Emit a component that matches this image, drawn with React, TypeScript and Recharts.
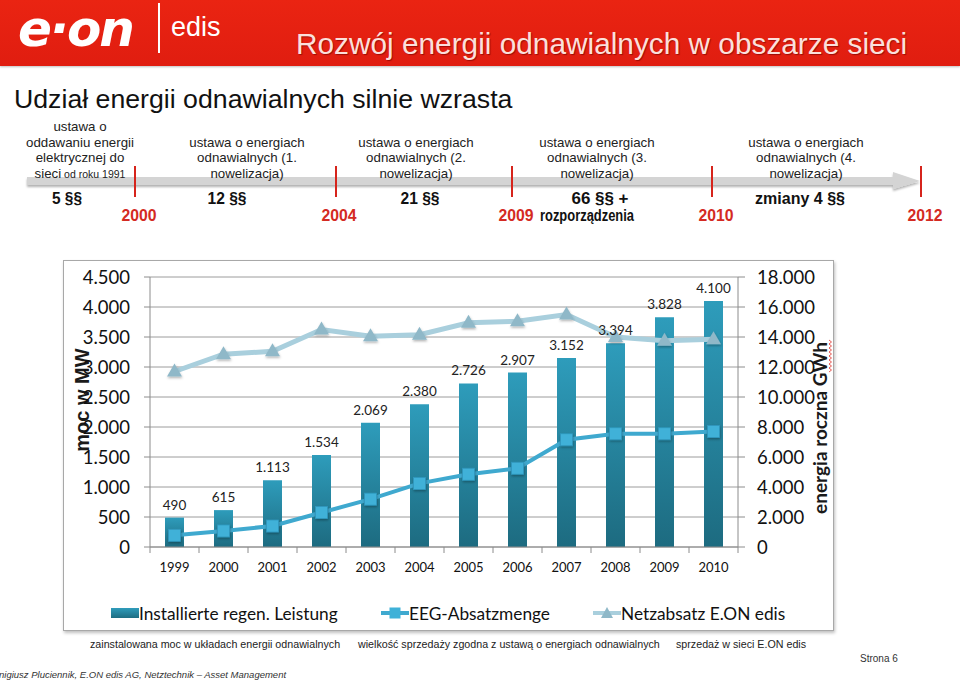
import React from "react";
import {
  Bar,
  CartesianGrid,
  ComposedChart,
  LabelList,
  Line,
  XAxis,
  YAxis,
} from "recharts";

// --- data ---
const years = ["1999", "2000", "2001", "2002", "2003", "2004", "2005", "2006", "2007", "2008", "2009", "2010"];
const installedMW = [490, 615, 1113, 1534, 2069, 2380, 2726, 2907, 3152, 3394, 3828, 4100];
const eegSalesGWh = [780, 1070, 1400, 2300, 3190, 4240, 4850, 5250, 7150, 7550, 7550, 7700];
const gridSalesGWh = [11700, 12850, 13050, 14500, 14050, 14150, 14950, 15050, 15500, 14000, 13750, 13850];
const mwTicks = [0, 500, 1000, 1500, 2000, 2500, 3000, 3500, 4000, 4500];
const gwhTicks = [0, 2000, 4000, 6000, 8000, 10000, 12000, 14000, 16000, 18000];

const seriesNames = ["Installierte regen. Leistung", "EEG-Absatzmenge", "Netzabsatz E.ON edis"];
const seriesNotes = [
  "zainstalowana moc w układach energii odnawialnych",
  "wielkość sprzedaży zgodna z ustawą o energiach odnawialnych",
  "sprzedaż w sieci E.ON edis",
];

const milestoneYears = ["2000", "2004", "2009", "2010", "2012"];
const lawTexts = [
  ["ustawa o", "oddawaniu energii", "elektrycznej do", "sieci|od roku 1991"],
  ["ustawa o energiach", "odnawialnych (1.", "nowelizacja)"],
  ["ustawa o energiach", "odnawialnych (2.", "nowelizacja)"],
  ["ustawa o energiach", "odnawialnych (3.", "nowelizacja)"],
  ["ustawa o energiach", "odnawialnych (4.", "nowelizacja)"],
];
const paragraphTexts = [["5 §§"], ["12 §§"], ["21 §§"], ["66 §§ +", "rozporządzenia"], ["zmiany 4 §§"]];

// timeline layout (page px)
const tickX = [135, 336, 512, 712, 921];
const lawX = [80, 247, 416, 597, 806];
const paraX = [67, 227, 420, 600, 800];
const paraW = [[30], [39], [39], [57, 94], [90]];
const yearX = [139, 339, 516, 716, 925];

const chartData = years.map((year, i) => ({
  year,
  mw: installedMW[i],
  eeg: eegSalesGWh[i],
  net: gridSalesGWh[i],
}));

const fmt = (v: number) => String(v).replace(/\B(?=(\d{3})+(?!\d))/g, ".");

const SANS = '"Liberation Sans", Arial, sans-serif';
const CAL = 'Lato, "Noto Sans", sans-serif';

function YearTick(props: any) {
  const { x, y, payload, index } = props;
  const half = 588 / years.length / 2;
  return (
    <g>
      <line x1={x - half} x2={x - half} y1={y} y2={y + 6} stroke="#8c8c8c" />
      {index === years.length - 1 && (
        <line x1={x + half} x2={x + half} y1={y} y2={y + 6} stroke="#8c8c8c" />
      )}
      <text x={x} y={y + 20} dy="0.35em" textAnchor="middle" fontFamily={CAL} fontSize={13} fill="#111">
        {payload.value}
      </text>
    </g>
  );
}

function LeftTitle({ viewBox }: any) {
  const x = viewBox.x + 19;
  const y = viewBox.y + viewBox.height / 2 - 12;
  return (
    <text
      x={x}
      y={y}
      transform={`rotate(-90 ${x} ${y})`}
      textAnchor="middle"
      dy="0.35em"
      fontFamily={SANS}
      fontWeight="bold"
      fontSize={20}
      fill="#1a1a1a"
    >
      moc w MW
    </text>
  );
}

function RightTitle({ viewBox }: any) {
  const x = viewBox.x + 82;
  const y = viewBox.y + viewBox.height / 2 + 16;
  let squiggle = `M ${x + 9} ${y - 88}`;
  for (let t = 0; t < 16; t++) squiggle += ` L ${x + (t % 2 ? 9 : 11.5)} ${y - 86 + t * 2}`;
  return (
    <g>
      <text
        x={x}
        y={y}
        transform={`rotate(-90 ${x} ${y})`}
        textAnchor="middle"
        dy="0.35em"
        fontFamily={CAL}
        fontWeight="bold"
        fontSize={19}
        fill="#1a1a1a"
      >
        energia roczna GWh
      </text>
      <path d={squiggle} fill="none" stroke="#e0302a" strokeWidth={0.8} />
    </g>
  );
}

const SquareDot = (p: any) => (
  <rect
    key={`sq-${p.index}`}
    x={p.cx - 6}
    y={p.cy - 6}
    width={12}
    height={12}
    fill="#3fb1d8"
    stroke="#2f97bd"
    strokeWidth={0.8}
    filter="url(#dotShadow)"
  />
);

const TriangleDot = (p: any) => (
  <path
    key={`tr-${p.index}`}
    d={`M ${p.cx} ${p.cy - 8} L ${p.cx + 7.5} ${p.cy + 5} L ${p.cx - 7.5} ${p.cy + 5} Z`}
    fill="#8fb8c8"
    filter="url(#dotShadow)"
  />
);

function LegendIcon({ kind }: { kind: number }) {
  return (
    <svg width={28} height={14} style={{ display: "block" }}>
      <defs>
        <linearGradient id={`lg${kind}`} x1="0" y1="0" x2="0" y2="1">
          <stop offset="0%" stopColor="#2f9cbb" />
          <stop offset="100%" stopColor="#1e6d82" />
        </linearGradient>
      </defs>
      {kind === 0 && <rect x={0} y={2} width={28} height={10} fill={`url(#lg0)`} />}
      {kind === 1 && (
        <>
          <line x1={0} x2={28} y1={7} y2={7} stroke="#3fa9cf" strokeWidth={4} />
          <rect x={8.5} y={1.5} width={11} height={11} fill="#3fb1d8" />
        </>
      )}
      {kind === 2 && (
        <>
          <line x1={0} x2={28} y1={7} y2={7} stroke="#a9cfdd" strokeWidth={4} />
          <path d="M 14 1 L 20 12 L 8 12 Z" fill="#8fb8c8" />
        </>
      )}
    </svg>
  );
}

const legendLeft = [111, 381, 593];
const noteLeft = [90, 358, 676];

export default function App() {
  return (
    <div
      style={{
        position: "absolute",
        left: 0,
        top: 0,
        width: 960,
        height: 681,
        background: "#fff",
        overflow: "hidden",
        fontFamily: SANS,
      }}
    >
      {/* header band */}
      <div
        style={{
          position: "absolute",
          left: 0,
          top: 0,
          width: 960,
          height: 66,
          background: "linear-gradient(#ea2412, #e01d10)",
          boxShadow: "0 1px 2px rgba(0,0,0,0.25)",
        }}
      >
        <div
          style={{
            position: "absolute",
            left: 18,
            top: 0,
            lineHeight: "normal",
            fontFamily: '"DejaVu Sans", sans-serif',
            fontWeight: 900,
            fontStyle: "italic",
            fontSize: 50,
            letterSpacing: -2,
            paddingRight: 6,
            color: "#fff",
          }}
        >
          e·on
        </div>
        <div style={{ position: "absolute", left: 158, top: 3, width: 1.5, height: 50, background: "#fff" }} />
        <div style={{ position: "absolute", left: 171, top: 12, fontSize: 27, color: "#fff" }}>edis</div>
        <div
          style={{
            position: "absolute",
            left: 296,
            top: 27,
            fontSize: 29.8,
            color: "#fbe0dc",
            textShadow: "1px 1px 1px rgba(110,0,0,0.6)",
            whiteSpace: "nowrap",
          }}
        >
          Rozwój energii odnawialnych w obszarze sieci
        </div>
      </div>

      {/* slide title */}
      <div style={{ position: "absolute", left: 14, top: 84, fontSize: 26.7, color: "#111", whiteSpace: "nowrap" }}>
        Udział energii odnawialnych silnie wzrasta
      </div>

      {/* legislation timeline */}
      <svg width={960} height={232} style={{ position: "absolute", left: 0, top: 0 }}>
        <defs>
          <filter id="arrowShadow" x="-5%" y="-50%" width="110%" height="200%">
            <feDropShadow dx={0} dy={2} stdDeviation={1.2} floodColor="#000" floodOpacity={0.3} />
          </filter>
        </defs>
        <path
          d="M 27 177 L 893 177 L 893 172 L 920 181 L 893 189 L 893 185 L 27 185 Z"
          fill="#d4d4d4"
          filter="url(#arrowShadow)"
        />
        {lawTexts.map((lines, i) => {
          const base = 178 - (lines.length - 1) * 15.7;
          return lines.map((ln, j) => {
            const [main, small] = ln.split("|");
            return (
              <text key={`${i}-${j}`} x={lawX[i]} y={base + j * 15.7} textAnchor="middle" fontSize={13.3} fill="#222">
                {main}
                {small && <tspan fontSize={10.5}> {small}</tspan>}
              </text>
            );
          });
        })}
        {tickX.map((x, i) => (
          <line key={`t${i}`} x1={x} x2={x} y1={166} y2={197} stroke="#d6241c" strokeWidth={2} />
        ))}
        {paragraphTexts.map((lines, i) =>
          lines.map((ln, j) => (
            <text
              key={`p${i}-${j}`}
              x={paraX[i] + (j === 1 ? -13 : 0)}
              y={204 + j * 17}
              textAnchor="middle"
              fontSize={16}
              fontWeight="bold"
              fill="#111"
              textLength={paraW[i][j]}
              lengthAdjust="spacingAndGlyphs"
            >
              {ln}
            </text>
          )),
        )}
        {milestoneYears.map((y, i) => (
          <text
            key={`y${i}`}
            x={yearX[i]}
            y={221}
            textAnchor="middle"
            fontSize={16}
            fontWeight="bold"
            fill="#d42a22"
            textLength={35}
            lengthAdjust="spacingAndGlyphs"
          >
            {y}
          </text>
        ))}
      </svg>

      {/* chart frame */}
      <div
        style={{
          position: "absolute",
          left: 63,
          top: 260,
          width: 769,
          height: 369,
          border: "1px solid #a8a8a8",
          boxShadow: "1px 2px 3px rgba(0,0,0,0.25)",
        }}
      />
      <div style={{ position: "absolute", left: 63, top: 260 }}>
        <ComposedChart
          width={770}
          height={370}
          data={chartData}
          margin={{ top: 17, right: 0, bottom: 53, left: 0 }}
        >
          <defs>
            <linearGradient id="barFill" x1="0" y1="0" x2="0" y2="1">
              <stop offset="0%" stopColor="#2e9cbb" />
              <stop offset="100%" stopColor="#1d6b80" />
            </linearGradient>
            <filter id="dotShadow" x="-50%" y="-50%" width="200%" height="200%">
              <feDropShadow dx={0.5} dy={1.5} stdDeviation={1} floodColor="#000" floodOpacity={0.3} />
            </filter>
          </defs>
          <CartesianGrid yAxisId="mw" vertical={false} stroke="#9c9c9c" />
          <XAxis
            dataKey="year"
            height={30}
            stroke="#8c8c8c"
            tickLine={false}
            tickSize={0}
            tickMargin={0}
            tick={<YearTick />}
            interval={0}
          />
          <YAxis
            yAxisId="mw"
            orientation="left"
            width={87}
            domain={[0, 4500]}
            ticks={mwTicks}
            tickFormatter={fmt}
            stroke="#8c8c8c"
            tickSize={6}
            tickMargin={14}
            tick={{ fontFamily: CAL, fontSize: 18.5, fill: "#111" }}
            label={<LeftTitle />}
          />
          <YAxis
            yAxisId="gwh"
            orientation="right"
            width={95}
            domain={[0, 18000]}
            ticks={gwhTicks}
            tickFormatter={fmt}
            stroke="#8c8c8c"
            tickSize={7}
            tickMargin={12}
            tick={{ fontFamily: CAL, fontSize: 18.5, fill: "#111", textAnchor: "start" }}
            label={<RightTitle />}
          />
          <Bar yAxisId="mw" dataKey="mw" name={seriesNames[0]} barSize={19} fill="url(#barFill)" isAnimationActive={false}>
            <LabelList
              dataKey="mw"
              position="top"
              offset={8}
              formatter={(v: any) => fmt(Number(v))}
              fontFamily={CAL}
              fontSize={13.5}
              fill="#222"
            />
          </Bar>
          <Line
            yAxisId="gwh"
            dataKey="net"
            name={seriesNames[2]}
            stroke="#a9cfdd"
            strokeWidth={5}
            dot={TriangleDot}
            activeDot={false}
            isAnimationActive={false}
          />
          <Line
            yAxisId="gwh"
            dataKey="eeg"
            name={seriesNames[1]}
            stroke="#3fa9cf"
            strokeWidth={4}
            dot={SquareDot}
            activeDot={false}
            isAnimationActive={false}
          />
        </ComposedChart>
      </div>

      {/* legend */}
      {seriesNames.map((name, i) => (
        <div
          key={name}
          style={{
            position: "absolute",
            left: legendLeft[i],
            top: 601,
            display: "flex",
            alignItems: "center",
            height: 24,
            fontFamily: CAL,
            fontSize: 17.3,
            color: "#111",
            whiteSpace: "nowrap",
          }}
        >
          <LegendIcon kind={i} />
          <span>{name}</span>
        </div>
      ))}

      {/* notes under legend */}
      {seriesNotes.map((note, i) => (
        <div
          key={note}
          style={{ position: "absolute", left: noteLeft[i], top: 638, fontSize: 10.7, color: "#222", whiteSpace: "nowrap" }}
        >
          {note}
        </div>
      ))}
      <div style={{ position: "absolute", left: 860, top: 653, fontSize: 10, color: "#333" }}>Strona 6</div>
      <div
        style={{
          position: "absolute",
          left: -1,
          top: 669,
          fontSize: 9.5,
          fontStyle: "italic",
          color: "#333",
          whiteSpace: "nowrap",
        }}
      >
        nigiusz Pluciennik, E.ON edis AG, Netztechnik – Asset Management
      </div>
    </div>
  );
}
